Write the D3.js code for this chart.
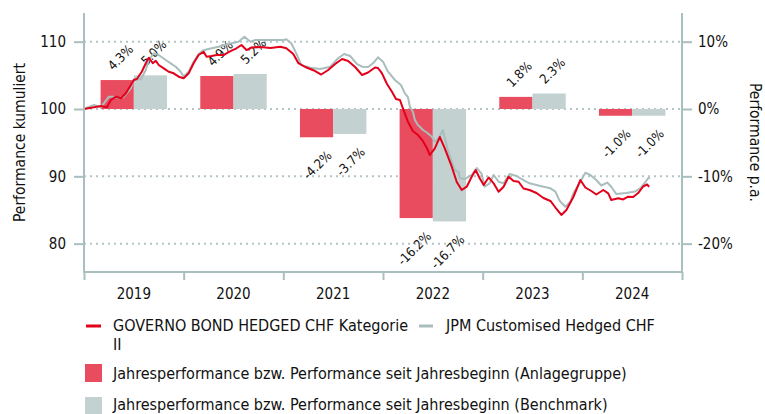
<!DOCTYPE html>
<html>
<head>
<meta charset="utf-8">
<script src="https://cdn.jsdelivr.net/npm/d3@7"></script>
<style>
  html, body { margin: 0; padding: 0; background: #fff; }
  svg { display: block; font-family: "DejaVu Sans Condensed", "DejaVu Sans", sans-serif; }
</style>
</head>
<body>
<svg id="chart" width="765" height="414"></svg>
<script>
// ---------- DATA ----------
const years = ["2019", "2020", "2021", "2022", "2023", "2024"];
const fundAnnual = [4.3, 4.9, -4.2, -16.2, 1.8, -1.0];      // Anlagegruppe
const benchAnnual = [5.0, 5.2, -3.7, -16.7, 2.3, -1.0];     // Benchmark

const leftTicks = [80, 90, 100, 110];
const rightTicks = [-20, -10, 0, 10];

const fundName = "GOVERNO BOND HEDGED CHF Kategorie";
const fundName2 = "II";
const benchName = "JPM Customised Hedged CHF";
const barFundName = "Jahresperformance bzw. Performance seit Jahresbeginn (Anlagegruppe)";
const barBenchName = "Jahresperformance bzw. Performance seit Jahresbeginn (Benchmark)";
const leftTitle = "Performance kumuliert";
const rightTitle = "Performance p.a.";

// cumulative performance (decimal year, index value)
const fundDates = [2019.00,2019.10,2019.17,2019.23,2019.27,2019.32,2019.37,2019.42,2019.47,2019.50,2019.53,2019.58,2019.62,2019.65,2019.69,2019.72,2019.75,2019.80,2019.85,2019.90,2019.95,2020.00,2020.05,2020.10,2020.15,2020.20,2020.23,2020.28,2020.33,2020.40,2020.46,2020.53,2020.58,2020.63,2020.68,2020.77,2020.87,2020.97,2021.03,2021.10,2021.15,2021.22,2021.32,2021.38,2021.45,2021.52,2021.59,2021.65,2021.72,2021.79,2021.85,2021.92,2021.95,2021.99,2022.04,2022.09,2022.13,2022.17,2022.20,2022.25,2022.30,2022.35,2022.40,2022.44,2022.47,2022.52,2022.57,2022.62,2022.69,2022.74,2022.79,2022.84,2022.89,2022.93,2022.97,2023.01,2023.06,2023.11,2023.16,2023.21,2023.26,2023.31,2023.36,2023.41,2023.47,2023.54,2023.61,2023.68,2023.73,2023.79,2023.84,2023.91,2023.98,2024.03,2024.09,2024.14,2024.21,2024.26,2024.29,2024.36,2024.41,2024.46,2024.51,2024.56,2024.61,2024.65,2024.67];
const fundValues = [100.0,100.25,100.45,100.25,101.34,101.83,101.59,102.33,103.56,104.31,104.46,105.54,106.79,107.62,106.79,107.17,106.54,106.04,105.54,105.30,104.80,104.56,105.30,106.79,108.02,108.51,107.77,107.87,108.02,108.02,108.51,109.02,109.51,108.76,109.13,109.21,109.06,109.25,109.02,108.17,106.83,106.24,105.64,105.12,105.79,106.68,107.43,107.13,106.24,105.05,105.42,106.16,106.09,105.30,103.71,102.57,101.49,101.34,100.10,98.11,96.73,96.14,95.25,94.21,93.17,94.16,95.84,94.16,91.43,89.16,87.97,88.46,89.94,90.94,89.71,88.71,89.83,88.96,87.72,88.46,89.94,89.31,89.20,88.19,87.97,87.52,86.78,86.34,85.37,84.26,85.00,86.93,89.45,88.34,87.82,87.30,87.97,87.48,86.48,86.74,86.56,86.97,86.93,87.52,88.49,88.79,88.42];

const benchDates = [2019.00,2019.10,2019.17,2019.25,2019.30,2019.35,2019.40,2019.47,2019.50,2019.57,2019.62,2019.65,2019.70,2019.75,2019.82,2019.87,2019.92,2019.97,2020.00,2020.05,2020.10,2020.15,2020.19,2020.21,2020.28,2020.35,2020.41,2020.48,2020.55,2020.61,2020.67,2020.72,2020.78,2020.90,2021.00,2021.03,2021.08,2021.13,2021.18,2021.27,2021.37,2021.47,2021.55,2021.61,2021.67,2021.74,2021.79,2021.85,2021.90,2021.95,2022.00,2022.05,2022.12,2022.18,2022.22,2022.25,2022.27,2022.30,2022.32,2022.35,2022.37,2022.40,2022.44,2022.47,2022.49,2022.52,2022.56,2022.60,2022.65,2022.72,2022.76,2022.77,2022.82,2022.89,2022.94,2022.99,2023.02,2023.07,2023.11,2023.16,2023.21,2023.27,2023.34,2023.41,2023.47,2023.54,2023.61,2023.68,2023.73,2023.76,2023.78,2023.83,2023.88,2023.91,2023.98,2024.03,2024.08,2024.14,2024.19,2024.25,2024.29,2024.34,2024.44,2024.53,2024.58,2024.63,2024.66,2024.68];
const benchValues = [100.0,100.59,100.25,101.83,101.83,101.59,101.83,103.07,104.41,104.41,105.79,107.28,108.27,108.02,107.28,106.79,106.28,105.54,104.80,105.54,107.03,108.17,108.66,108.76,109.02,109.25,109.51,109.76,110.00,110.74,110.00,110.25,110.25,110.25,110.25,110.35,109.76,108.27,106.54,106.13,105.94,106.28,107.53,108.17,107.87,106.68,106.28,106.24,106.79,107.68,107.03,105.54,104.31,103.56,102.33,101.78,100.34,99.60,98.37,97.62,97.37,96.88,96.51,96.14,95.89,95.14,95.65,96.88,93.91,90.94,90.64,89.71,89.60,90.20,91.24,90.35,88.46,88.96,90.20,89.20,88.96,90.35,90.05,89.45,88.96,88.71,88.46,88.22,87.72,86.74,86.23,85.49,86.23,87.48,89.20,90.54,90.20,89.45,88.64,89.08,88.46,87.38,87.52,87.75,88.22,89.08,89.71,89.75];

// ---------- STYLE ----------
const RED_LINE = "#e3001b", GREY_LINE = "#a9bdbd";
const RED_BAR = "#e94c5e", GREY_BAR = "#c3d1d1";
const AXIS = "#a9bfbf", GRID = "#b3c5c5", TEXT = "#111";

const svg = d3.select("#chart");
const pL = 84, pR = 682, pT = 13, pB = 272;

const x = d3.scaleLinear().domain([2019, 2025]).range([pL, pR]);
const yL = d3.scaleLinear().domain([75.79, 114.26]).range([pB, pT]);
const yR = d3.scaleLinear().domain([-24.21, 14.26]).range([pB, pT]);

const xBand = d3.scaleBand().domain(years).range([pL, pR]).paddingInner(1/3).paddingOuter(1/6);
const sub = d3.scaleBand().domain(["fund", "bench"]).range([0, xBand.bandwidth()]);

// gridlines (dotted)
svg.append("g").selectAll("line").data(leftTicks).join("line")
  .attr("x1", pL).attr("x2", pR)
  .attr("y1", d => yL(d)).attr("y2", d => yL(d))
  .attr("stroke", GRID).attr("stroke-width", 2).attr("stroke-dasharray", "2,4");

// bars
const barData = [];
years.forEach((yr, i) => {
  barData.push({ yr, key: "fund", v: fundAnnual[i] });
  barData.push({ yr, key: "bench", v: benchAnnual[i] });
});
svg.append("g").selectAll("rect").data(barData).join("rect")
  .attr("x", d => xBand(d.yr) + sub(d.key))
  .attr("width", sub.bandwidth())
  .attr("y", d => yR(Math.max(0, d.v)))
  .attr("height", d => Math.abs(yR(d.v) - yR(0)))
  .attr("fill", d => d.key === "fund" ? RED_BAR : GREY_BAR);

// bar labels
svg.append("g").selectAll("text").data(barData).join("text")
  .attr("transform", d => {
    const cx = xBand(d.yr) + sub(d.key) + sub.bandwidth() / 2;
    if (d.v >= 0) return `translate(${cx - 4},${yR(d.v) - 9}) rotate(-45)`;
    return `translate(${cx + 16},${yR(d.v) + 19}) rotate(-45)`;
  })
  .attr("text-anchor", d => d.v >= 0 ? "start" : "end")
  .attr("font-size", 13).attr("fill", TEXT)
  .text(d => d.v.toFixed(1) + "%");

// lines
const line = d3.line().x(d => x(d[0])).y(d => yL(d[1]));
svg.append("path").datum(benchDates.map((t, i) => [t, benchValues[i]]))
  .attr("d", line).attr("fill", "none").attr("stroke", GREY_LINE).attr("stroke-width", 2).attr("stroke-linejoin", "round");
svg.append("path").datum(fundDates.map((t, i) => [t, fundValues[i]]))
  .attr("d", line).attr("fill", "none").attr("stroke", RED_LINE).attr("stroke-width", 2).attr("stroke-linejoin", "round");

// axes lines
const axG = svg.append("g").attr("stroke", AXIS).attr("stroke-width", 2);
axG.append("line").attr("x1", pL).attr("x2", pL).attr("y1", pT).attr("y2", pB + 1);
axG.append("line").attr("x1", pR).attr("x2", pR).attr("y1", pT).attr("y2", pB + 1);
axG.append("line").attr("x1", pL).attr("x2", pR).attr("y1", pB).attr("y2", pB);

// left axis
const gl = svg.append("g").attr("transform", `translate(${pL},0)`)
  .call(d3.axisLeft(yL).tickValues(leftTicks).tickSize(10).tickPadding(8).tickFormat(d3.format("d")));
// right axis
const gr = svg.append("g").attr("transform", `translate(${pR},0)`)
  .call(d3.axisRight(yR).tickValues(rightTicks).tickSize(10).tickPadding(6).tickFormat(d => d + "%"));
// x axis (year boundaries as ticks, labels in the middle)
const gx = svg.append("g").attr("transform", `translate(0,${pB})`)
  .call(d3.axisBottom(x).tickValues(d3.range(2019, 2026)).tickSize(8).tickFormat(""));
svg.append("g").selectAll("text").data(years).join("text")
  .attr("x", d => xBand(d) + xBand.bandwidth() / 2).attr("y", pB + 27)
  .attr("text-anchor", "middle").attr("font-size", 15).attr("fill", TEXT).text(d => d);

[gl, gr, gx].forEach(g => {
  g.select(".domain").remove();
  g.selectAll(".tick line").attr("stroke", AXIS).attr("stroke-width", 2);
  g.selectAll(".tick text").attr("font-size", 15).attr("fill", TEXT)
    .attr("font-family", "DejaVu Sans Condensed, DejaVu Sans, sans-serif");
});

// axis titles
svg.append("text").attr("transform", `translate(25,${(pT + pB) / 2}) rotate(-90)`)
  .attr("text-anchor", "middle").attr("font-size", 15.5).attr("fill", TEXT).text(leftTitle);
svg.append("text").attr("transform", `translate(750,${(pT + pB) / 2}) rotate(90)`)
  .attr("text-anchor", "middle").attr("font-size", 15.5).attr("fill", TEXT).text(rightTitle);

// legend
const lg = svg.append("g").attr("font-size", 16).attr("fill", TEXT);
lg.append("line").attr("x1", 86).attr("x2", 101).attr("y1", 326).attr("y2", 326).attr("stroke", RED_LINE).attr("stroke-width", 3);
lg.append("text").attr("x", 113).attr("y", 331).text(fundName);
lg.append("text").attr("x", 113).attr("y", 350).text(fundName2);
lg.append("line").attr("x1", 419).attr("x2", 433).attr("y1", 326).attr("y2", 326).attr("stroke", GREY_LINE).attr("stroke-width", 3);
lg.append("text").attr("x", 446).attr("y", 331).text(benchName);

lg.append("rect").attr("x", 85).attr("y", 364).attr("width", 17).attr("height", 18).attr("fill", RED_BAR);
lg.append("text").attr("x", 113).attr("y", 379).text(barFundName);
lg.append("rect").attr("x", 85).attr("y", 397).attr("width", 17).attr("height", 17).attr("fill", GREY_BAR);
lg.append("text").attr("x", 113).attr("y", 410).text(barBenchName);
</script>
</body>
</html>
